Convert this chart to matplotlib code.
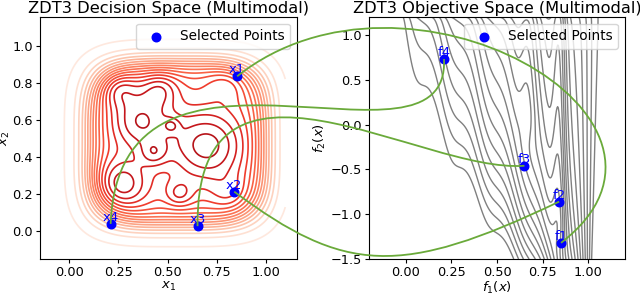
import numpy as np
import matplotlib.pyplot as plt
from matplotlib.path import Path
from matplotlib.patches import PathPatch
from matplotlib.colors import Normalize

# selected points (decision space) and their images (objective space)
point_ids = ['1', '2', '3', '4']
dec_x1 = [0.855, 0.84, 0.653, 0.21]
dec_x2 = [0.835, 0.213, 0.027, 0.039]
obj_f1 = [0.85, 0.84, 0.65, 0.21]
obj_f2 = [-1.32, -0.86, -0.46, 0.73]

# bumps of the multimodal landscape in decision space
bump_cx = [0.36, 0.70, 0.26, 0.43, 0.56, 0.52, 0.25, 0.46, 0.80, 0.82]
bump_cy = [0.59, 0.46, 0.25, 0.42, 0.20, 0.57, 0.77, 0.77, 0.80, 0.20]
bump_h = [0.40, 0.45, 0.40, 0.22, 0.22, 0.16, 0.28, 0.28, 0.15, 0.15]
bump_w = [0.11, 0.14, 0.10, 0.05, 0.05, 0.03, 0.07, 0.07, 0.07, 0.07]

# valleys of the objective-space landscape
valley_f1 = [0.84, 0.67]
valley_f2 = [-1.3, -0.1]
valley_depth = [0.15, 0.1]
valley_w = [0.04, 0.05]


def sig(z):
    return 1 / (1 + np.exp(-z))


xs = np.linspace(-0.1, 1.1, 300)
X, Y = np.meshgrid(xs, xs)
d = ((np.abs(X - 0.548) / 0.452) ** 4 + (np.abs(Y - 0.475) / 0.44) ** 4) ** 0.25
Z = np.ones_like(X)
for cx, cy, h, w in zip(bump_cx, bump_cy, bump_h, bump_w):
    Z += h * np.exp(-((X - cx) ** 2 + (Y - cy) ** 2) / (2 * w ** 2))
Z = sig((1 - d) / 0.085) * Z

g1 = np.linspace(-0.2, 1.2, 400)
g2 = np.linspace(-1.5, 1.2, 400)
F1, F2 = np.meshgrid(g1, g2)
s = (1.2 - F2) / 2.7
L = -0.07 + 0.59 * s ** 1.6
R = 1.07 - 0.05 * s
U = np.clip((F1 - L) / (R - L), 0, None)
W = U ** (1 + 0.6 * np.sqrt(s)) + 0.016 * np.sin(10 * np.pi * F1)
for vx, vy, dd, w in zip(valley_f1, valley_f2, valley_depth, valley_w):
    W -= dd * np.exp(-((F1 - vx) / w) ** 2) * sig((F2 - vy) / 0.12)

fig = plt.figure(figsize=(6.4, 2.97), dpi=100)
ax1 = fig.add_axes([0.0625, 0.128, 0.4016, 0.815])
ax2 = fig.add_axes([0.5766, 0.128, 0.4, 0.815])

ax1.contour(X, Y, Z, levels=np.linspace(0.04, Z.max() * 0.97, 16), cmap='Reds',
            linewidths=1.2, norm=Normalize(-0.1, Z.max() * 1.2))
ax1.scatter(dec_x1, dec_x2, color='blue', s=38, zorder=5, label='Selected Points')
for i, px, py in zip(point_ids, dec_x1, dec_x2):
    ax1.annotate('x' + i, (px, py), xytext=(0, 0), textcoords='offset points',
                 ha='center', va='bottom', color='blue', fontsize=9.5)
ax1.set_xlim(-0.15, 1.16)
ax1.set_ylim(-0.15, 1.155)
ax1.set_title('ZDT3 Decision Space (Multimodal)', fontsize=11.7, pad=3)
ax1.set_xlabel('$x_1$', fontsize=9.5)
ax1.set_ylabel('$x_2$', fontsize=9.5)
ax1.xaxis.set_label_coords(0.5, -0.088)
ax1.yaxis.set_label_coords(-0.108, 0.5)
ax1.legend(loc='upper right', fontsize=9.8)

ax2.contour(F1, F2, W, levels=np.linspace(0.04, 1.0, 24), colors='gray',
            linewidths=1.0, linestyles='solid')
ax2.scatter(obj_f1, obj_f2, color='blue', s=38, zorder=5, label='Selected Points')
for i, px, py in zip(point_ids, obj_f1, obj_f2):
    ax2.annotate('f' + i, (px, py), xytext=(0, 0), textcoords='offset points',
                 ha='center', va='bottom', color='blue', fontsize=9.5)
ax2.set_xlim(-0.2, 1.2)
ax2.set_ylim(-1.5, 1.2)
ax2.set_title('ZDT3 Objective Space (Multimodal)', fontsize=11.7, pad=3)
ax2.set_xlabel('$f_1(x)$', fontsize=9.5)
ax2.set_ylabel('$f_2(x)$', fontsize=9.5)
ax2.xaxis.set_label_coords(0.5, -0.088)
ax2.yaxis.set_label_coords(-0.16, 0.5)
ax2.legend(loc='upper right', fontsize=9.8)

for ax in (ax1, ax2):
    ax.tick_params(labelsize=9.3, length=3, pad=2.2)

# curved connectors x_i -> f_i, control offsets in pixels (x right, y down)
ctrl = {'1': ((170, -135), (161, -124)),
        '2': ((110, 82), (-159, 76)),
        '3': ((-2, -208), (-103, 8)),
        '4': ((9, -226), (6, 131))}
inv = fig.transFigure.inverted()
for i, a, b, c, e in zip(point_ids, dec_x1, dec_x2, obj_f1, obj_f2):
    p0 = inv.transform(ax1.transData.transform((a, b)))
    p3 = inv.transform(ax2.transData.transform((c, e)))
    (ax_, ay_), (bx_, by_) = ctrl[i]
    p1 = p0 + np.array([ax_ / 640, -ay_ / 297])
    p2 = p3 + np.array([bx_ / 640, -by_ / 297])
    path = Path([p0, p1, p2, p3], [Path.MOVETO, Path.CURVE4, Path.CURVE4, Path.CURVE4])
    fig.patches.append(PathPatch(path, transform=fig.transFigure, fill=False,
                                 edgecolor='#6aaa3a', lw=1.3, zorder=10))

fig.savefig('out.png', dpi=100)
